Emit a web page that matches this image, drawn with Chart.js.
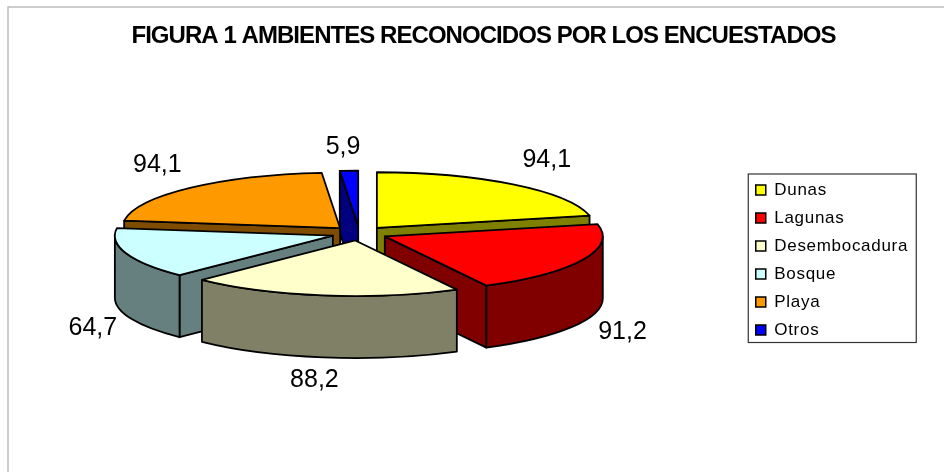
<!DOCTYPE html>
<html><head><meta charset="utf-8">
<style>html,body{margin:0;padding:0;background:#fff}#w{position:relative;width:944px;height:472px}</style>
<script src="https://cdn.jsdelivr.net/npm/chart.js@4"></script>
</head><body><div id="w"><canvas id="c" width="944" height="472"></canvas></div>
<script>
const categories = ['Dunas','Lagunas','Desembocadura','Bosque','Playa','Otros'];
const values = [94.1,91.2,88.2,64.7,94.1,5.9];
const valueLabels = ['94,1','91,2','88,2','64,7','94,1','5,9'];
const topColors = ['#FFFF00','#FF0000','#FFFFCC','#CCFFFF','#FF9900','#0000FF'];
const wallColors = ['#808000','#800000','#808066','#668080','#804D00','#000080'];
const titleText = 'FIGURA 1 AMBIENTES RECONOCIDOS POR LOS ENCUESTADOS';

// 3D look
const SQUASH = 0.255, DEPTH = 62, EXPLODE = 28, SHIFT_X = -42, SHIFT_Y = -26, LEGEND_DY = 36;
const PAINT_ORDER = [0,5,4,3,1,2];
const LABEL_NUDGE = [[5,-3],[-2,-4],[-2,0],[10,0],[-1,-3],[-4,4]];

const pie3d = {
  id:'pie3d',
  beforeDraw(chart){
    const ctx = chart.ctx;
    ctx.save(); ctx.strokeStyle='#bdbdbd'; ctx.lineWidth=1.5;
    ctx.beginPath(); ctx.moveTo(8,472); ctx.lineTo(8,7); ctx.lineTo(944,7); ctx.stroke(); ctx.restore();
  },
  afterLayout(chart){
    const tb = chart.titleBlock, lg = chart.legend;
    if(!tb._wrapped){ tb._wrapped=true;
      const d = tb.draw.bind(tb);
      tb.draw = function(){ const c=chart.ctx; c.save(); c.letterSpacing='-0.95px'; d(); c.restore(); };
    }
    if(!lg._wrapped){ lg._wrapped=true;
      const d = lg.draw.bind(lg);
      lg.draw = function(){ const c=chart.ctx; c.save(); c.translate(0,LEGEND_DY);
        c.strokeStyle='#333'; c.lineWidth=1.2;
        const hb=lg.legendHitBoxes, top=hb[0].top-7.5, bot=hb[hb.length-1].top+hb[0].height+4;
        c.strokeRect(lg.left+3.5, top, 168, bot-top);
        c.letterSpacing='0.7px'; d(); c.restore(); };
    }
  },
  beforeDatasetsDraw(chart){
    const ctx = chart.ctx, arcs = chart.getDatasetMeta(0).data;
    ctx.save();
    ctx.lineJoin='round'; ctx.lineWidth=1.8; ctx.strokeStyle='#000';
    const geo = arcs.map(a=>{
      const m=(a.startAngle+a.endAngle)/2;
      return {X:a.x+SHIFT_X+EXPLODE*Math.cos(m), Y:a.y+SHIFT_Y+EXPLODE*SQUASH*Math.sin(m), R:a.outerRadius, a0:a.startAngle, a1:a.endAngle, m};
    });
    PAINT_ORDER.forEach(i=>{
      const g=geo[i], a=arcs[i], {X,Y,R,a0,a1}=g, kR=R*SQUASH;
      ctx.fillStyle=wallColors[i];
      const plane=ang=>{
        const px=X+R*Math.cos(ang), py=Y+kR*Math.sin(ang);
        ctx.beginPath(); ctx.moveTo(X,Y); ctx.lineTo(px,py); ctx.lineTo(px,py+DEPTH); ctx.lineTo(X,Y+DEPTH); ctx.closePath(); ctx.fill(); ctx.stroke();
      };
      if(Math.cos(a0)<-1e-6) plane(a0);
      if(Math.cos(a1)>1e-6) plane(a1);
      const s=Math.max(a0,0), e=Math.min(a1,Math.PI);
      if(e>s){
        ctx.beginPath(); ctx.ellipse(X,Y,R,kR,0,s,e); ctx.ellipse(X,Y+DEPTH,R,kR,0,e,s,true); ctx.closePath(); ctx.fill(); ctx.stroke();
      }
      ctx.save(); ctx.translate(X,Y); ctx.scale(1,SQUASH); ctx.translate(-a.x,-a.y); a.draw(ctx); ctx.restore();
      ctx.beginPath(); ctx.moveTo(X,Y); ctx.ellipse(X,Y,R,kR,0,a0,a1); ctx.closePath(); ctx.stroke();
    });
    ctx.fillStyle='#000'; ctx.font='25px "Liberation Sans", Arial, sans-serif'; ctx.textAlign='center'; ctx.textBaseline='middle';
    arcs.forEach((a,i)=>{
      const m=geo[i].m, s=Math.sin(m), cx=a.x+SHIFT_X, cy=a.y+SHIFT_Y;
      const x=cx+292*Math.cos(m)+LABEL_NUDGE[i][0];
      const y=cy+(s>0? 70+78*s : 90*s)+LABEL_NUDGE[i][1];
      ctx.fillText(valueLabels[i],x,y);
    });
    ctx.restore();
    return false;
  }
};

new Chart(document.getElementById('c'),{
  type:'pie',
  data:{labels:categories,datasets:[{data:values,backgroundColor:topColors,borderWidth:0}]},
  options:{
    responsive:false,animation:false,radius:218,
    layout:{padding:{left:58,right:35,top:0,bottom:24}},
    plugins:{
      tooltip:{enabled:false},
      title:{display:true,text:titleText,color:'#000',font:{family:'"Liberation Sans", Arial, sans-serif',size:24,weight:'bold'},padding:{top:22,bottom:20}},
      legend:{position:'right',align:'center',labels:{
        boxWidth:10,boxHeight:10,padding:11,color:'#000',
        font:{family:'"Liberation Sans", Arial, sans-serif',size:17},
        generateLabels(chart){return Chart.overrides.doughnut.plugins.legend.labels.generateLabels(chart).map(l=>({...l,strokeStyle:'#000',lineWidth:1.5}));}
      }}
    }
  },
  plugins:[pie3d]
});
</script></body></html>
